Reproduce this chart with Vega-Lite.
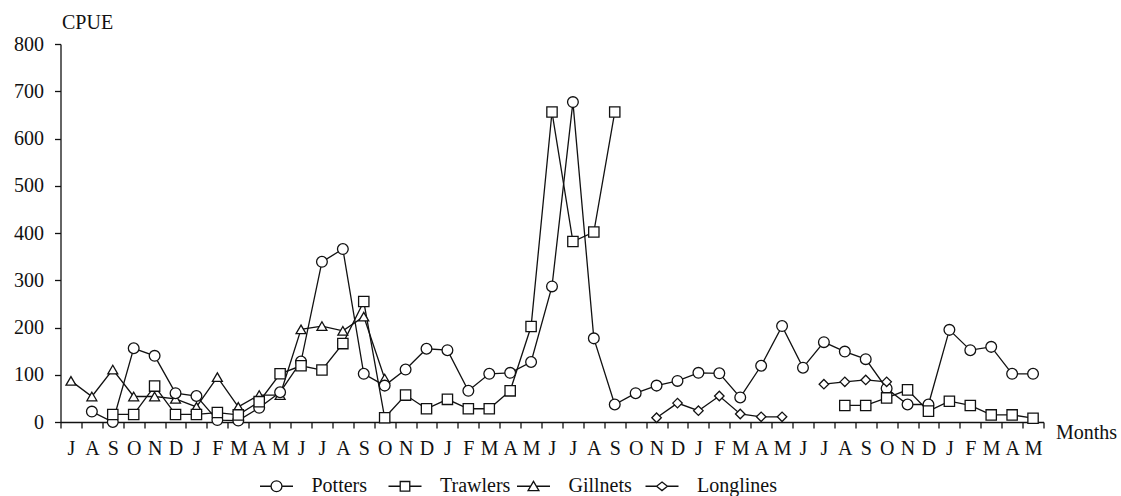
{
  "$schema": "https://vega.github.io/schema/vega-lite/v6.json",
  "width": 983,
  "height": 378,
  "autosize": {"type": "none"},
  "padding": {"left": 60.5, "top": 44, "right": 77.5, "bottom": 74},
  "background": "white",
  "config": {
    "view": {"stroke": null},
    "font": "Liberation Serif"
  },
  "layer": [
    {
      "data": {
        "values": [
          {"t": 0, "gear": "Gillnets", "v": 87},
          {"t": 1, "gear": "Gillnets", "v": 54},
          {"t": 2, "gear": "Gillnets", "v": 111},
          {"t": 3, "gear": "Gillnets", "v": 54},
          {"t": 4, "gear": "Gillnets", "v": 54},
          {"t": 5, "gear": "Gillnets", "v": 49},
          {"t": 6, "gear": "Gillnets", "v": 32},
          {"t": 7, "gear": "Gillnets", "v": 95},
          {"t": 8, "gear": "Gillnets", "v": 32},
          {"t": 9, "gear": "Gillnets", "v": 57},
          {"t": 10, "gear": "Gillnets", "v": 57},
          {"t": 11, "gear": "Gillnets", "v": 196},
          {"t": 12, "gear": "Gillnets", "v": 203},
          {"t": 13, "gear": "Gillnets", "v": 193},
          {"t": 14, "gear": "Gillnets", "v": 223},
          {"t": 15, "gear": "Gillnets", "v": 92},
          {"t": 1, "gear": "Potters", "v": 22},
          {"t": 2, "gear": "Potters", "v": 0},
          {"t": 3, "gear": "Potters", "v": 156},
          {"t": 4, "gear": "Potters", "v": 140},
          {"t": 5, "gear": "Potters", "v": 61},
          {"t": 6, "gear": "Potters", "v": 55},
          {"t": 7, "gear": "Potters", "v": 4},
          {"t": 8, "gear": "Potters", "v": 3},
          {"t": 9, "gear": "Potters", "v": 30},
          {"t": 10, "gear": "Potters", "v": 63},
          {"t": 11, "gear": "Potters", "v": 128},
          {"t": 12, "gear": "Potters", "v": 339},
          {"t": 13, "gear": "Potters", "v": 366},
          {"t": 14, "gear": "Potters", "v": 102},
          {"t": 15, "gear": "Potters", "v": 77},
          {"t": 16, "gear": "Potters", "v": 111},
          {"t": 17, "gear": "Potters", "v": 155},
          {"t": 18, "gear": "Potters", "v": 152},
          {"t": 19, "gear": "Potters", "v": 66},
          {"t": 20, "gear": "Potters", "v": 102},
          {"t": 21, "gear": "Potters", "v": 104},
          {"t": 22, "gear": "Potters", "v": 127},
          {"t": 23, "gear": "Potters", "v": 287},
          {"t": 24, "gear": "Potters", "v": 677},
          {"t": 25, "gear": "Potters", "v": 177},
          {"t": 26, "gear": "Potters", "v": 37},
          {"t": 27, "gear": "Potters", "v": 61},
          {"t": 28, "gear": "Potters", "v": 77},
          {"t": 29, "gear": "Potters", "v": 87},
          {"t": 30, "gear": "Potters", "v": 104},
          {"t": 31, "gear": "Potters", "v": 103},
          {"t": 32, "gear": "Potters", "v": 52},
          {"t": 33, "gear": "Potters", "v": 119},
          {"t": 34, "gear": "Potters", "v": 203},
          {"t": 35, "gear": "Potters", "v": 115},
          {"t": 36, "gear": "Potters", "v": 169},
          {"t": 37, "gear": "Potters", "v": 149},
          {"t": 38, "gear": "Potters", "v": 133},
          {"t": 39, "gear": "Potters", "v": 71},
          {"t": 40, "gear": "Potters", "v": 37},
          {"t": 41, "gear": "Potters", "v": 37},
          {"t": 42, "gear": "Potters", "v": 195},
          {"t": 43, "gear": "Potters", "v": 152},
          {"t": 44, "gear": "Potters", "v": 159},
          {"t": 45, "gear": "Potters", "v": 102},
          {"t": 46, "gear": "Potters", "v": 102},
          {"t": 2, "gear": "Trawlers", "v": 16},
          {"t": 3, "gear": "Trawlers", "v": 16},
          {"t": 4, "gear": "Trawlers", "v": 76},
          {"t": 5, "gear": "Trawlers", "v": 16},
          {"t": 6, "gear": "Trawlers", "v": 16},
          {"t": 7, "gear": "Trawlers", "v": 20},
          {"t": 8, "gear": "Trawlers", "v": 15},
          {"t": 9, "gear": "Trawlers", "v": 43},
          {"t": 10, "gear": "Trawlers", "v": 102},
          {"t": 11, "gear": "Trawlers", "v": 119},
          {"t": 12, "gear": "Trawlers", "v": 110},
          {"t": 13, "gear": "Trawlers", "v": 166},
          {"t": 14, "gear": "Trawlers", "v": 255},
          {"t": 15, "gear": "Trawlers", "v": 9},
          {"t": 16, "gear": "Trawlers", "v": 57},
          {"t": 17, "gear": "Trawlers", "v": 28},
          {"t": 18, "gear": "Trawlers", "v": 48},
          {"t": 19, "gear": "Trawlers", "v": 28},
          {"t": 20, "gear": "Trawlers", "v": 28},
          {"t": 21, "gear": "Trawlers", "v": 66},
          {"t": 22, "gear": "Trawlers", "v": 202},
          {"t": 23, "gear": "Trawlers", "v": 656},
          {"t": 24, "gear": "Trawlers", "v": 382},
          {"t": 25, "gear": "Trawlers", "v": 402},
          {"t": 26, "gear": "Trawlers", "v": 656},
          {"t": 27, "gear": "Trawlers", "v": null},
          {"t": 37, "gear": "Trawlers", "v": 35},
          {"t": 38, "gear": "Trawlers", "v": 35},
          {"t": 39, "gear": "Trawlers", "v": 51},
          {"t": 40, "gear": "Trawlers", "v": 68},
          {"t": 41, "gear": "Trawlers", "v": 23},
          {"t": 42, "gear": "Trawlers", "v": 44},
          {"t": 43, "gear": "Trawlers", "v": 35},
          {"t": 44, "gear": "Trawlers", "v": 15},
          {"t": 45, "gear": "Trawlers", "v": 15},
          {"t": 46, "gear": "Trawlers", "v": 8},
          {"t": 28, "gear": "Longlines", "v": 9},
          {"t": 29, "gear": "Longlines", "v": 40},
          {"t": 30, "gear": "Longlines", "v": 24},
          {"t": 31, "gear": "Longlines", "v": 55},
          {"t": 32, "gear": "Longlines", "v": 17},
          {"t": 33, "gear": "Longlines", "v": 11},
          {"t": 34, "gear": "Longlines", "v": 11},
          {"t": 35, "gear": "Longlines", "v": null},
          {"t": 36, "gear": "Longlines", "v": 80},
          {"t": 37, "gear": "Longlines", "v": 85},
          {"t": 38, "gear": "Longlines", "v": 89},
          {"t": 39, "gear": "Longlines", "v": 85}
        ]
      },
      "encoding": {
        "x": {
          "field": "t",
          "type": "ordinal",
          "bandPosition": 0.5,
          "scale": {
            "type": "band",
            "domain": [0,1,2,3,4,5,6,7,8,9,10,11,12,13,14,15,16,17,18,19,20,21,22,23,24,25,26,27,28,29,30,31,32,33,34,35,36,37,38,39,40,41,42,43,44,45,46],
            "paddingInner": 0,
            "paddingOuter": 0
          },
          "axis": {
            "title": "Months",
            "titleAngle": 0,
            "titleAlign": "left",
            "titleBaseline": "middle",
            "titleX": 995,
            "titleY": 10,
            "titleFont": "Liberation Serif",
            "titleFontSize": 20,
            "titleFontWeight": "normal",
            "titleColor": "#111",
            "tickBand": "extent",
            "labelAngle": 0,
            "labelExpr": "['J','A','S','O','N','D','J','F','M','A','M','J'][datum.value % 12]",
            "labelFont": "Liberation Serif",
            "labelFontSize": 20,
            "labelColor": "#111",
            "tickSize": 6,
            "tickColor": "#111",
            "tickWidth": 1.3,
            "domainColor": "#111",
            "domainWidth": 1.3,
            "labelPadding": 10,
            "grid": false
          }
        },
        "y": {
          "field": "v",
          "type": "quantitative",
          "title": "CPUE",
          "scale": {"domain": [0, 800], "nice": false},
          "axis": {
            "title": "CPUE",
            "titleAngle": 0,
            "titleAlign": "left",
            "titleBaseline": "middle",
            "titleX": 1,
            "titleY": -22,
            "titleFont": "Liberation Serif",
            "titleFontSize": 20,
            "titleFontWeight": "normal",
            "titleColor": "#111",
            "values": [0, 100, 200, 300, 400, 500, 600, 700, 800],
            "labelFont": "Liberation Serif",
            "labelFontSize": 20,
            "labelColor": "#111",
            "tickSize": 6,
            "tickColor": "#111",
            "tickWidth": 1.3,
            "domainColor": "#111",
            "domainWidth": 1.3,
            "labelPadding": 11,
            "grid": false
          }
        }
      },
      "layer": [
        {
          "mark": {"type": "line", "color": "#111", "strokeWidth": 1.3, "invalid": "break-paths-show-domains"},
          "encoding": {"detail": {"field": "gear", "type": "nominal"}}
        },
        {
          "mark": {"type": "point", "filled": false, "fill": "white", "fillOpacity": 1, "stroke": "#111", "strokeWidth": 1.3, "opacity": 1},
          "encoding": {
            "shape": {
              "field": "gear",
              "type": "nominal",
              "scale": {"domain": ["Potters", "Trawlers", "Gillnets", "Longlines"], "range": ["circle", "square", "triangle-up", "diamond"]},
              "legend": null
            },
            "size": {
              "field": "gear",
              "type": "nominal",
              "scale": {"domain": ["Potters", "Trawlers", "Gillnets", "Longlines"], "range": [115, 90, 120, 70]},
              "legend": null
            }
          }
        }
      ]
    },
    {
      "data": {
        "values": [
          {"gear": "Potters"},
          {"gear": "Trawlers"},
          {"gear": "Gillnets"},
          {"gear": "Longlines"}
        ]
      },
      "encoding": {
        "x": {
          "field": "gear",
          "type": "nominal",
          "scale": {
            "type": "point",
            "domain": ["Potters", "Trawlers", "Gillnets", "Longlines"],
            "padding": 0,
            "range": [216, 601.5]
          },
          "axis": null
        },
        "y": {"datum": -136, "type": "quantitative", "title": "CPUE"}
      },
      "layer": [
        {
          "mark": {"type": "point", "filled": false, "fill": "white", "fillOpacity": 1, "stroke": "#111", "strokeWidth": 1.3, "opacity": 1, "size": 1089},
          "encoding": {
            "shape": {
              "field": "gear",
              "type": "nominal",
              "scale": {
                "domain": ["Potters", "Trawlers", "Gillnets", "Longlines"],
                "range": [
                  "M-1,0H-0.33M0.33,0H1M0.33,0A0.33,0.33 0 1 1 -0.33,0A0.33,0.33 0 1 1 0.33,0Z",
                  "M-1,0H-0.29M0.29,0H1M-0.29,-0.29H0.29V0.29H-0.29Z",
                  "M-1,0H-0.17M0.17,0H1M0,-0.3L0.33,0.27H-0.33Z",
                  "M-1,0H-0.33M0.33,0H1M0,-0.26L0.33,0L0,0.26L-0.33,0Z"
                ]
              },
              "legend": null
            }
          }
        },
        {
          "mark": {"type": "text", "align": "left", "baseline": "middle", "dx": 35, "font": "Liberation Serif", "fontSize": 20, "color": "#111"},
          "encoding": {"text": {"field": "gear", "type": "nominal"}}
        }
      ]
    }
  ],
  "resolve": {"scale": {"x": "independent", "shape": "independent", "size": "independent"}}
}
